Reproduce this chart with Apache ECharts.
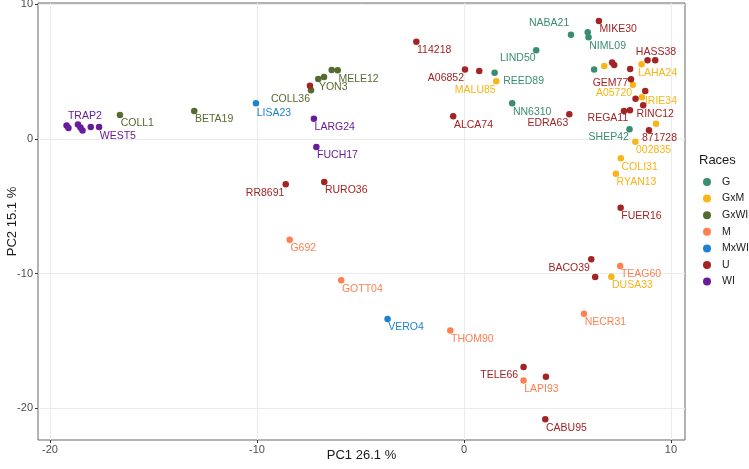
<!DOCTYPE html>
<html><head><meta charset="utf-8">
<script src="https://cdn.jsdelivr.net/npm/echarts@6/dist/echarts.min.js"></script>
<style>html,body{margin:0;padding:0;background:#fff}#c{width:749px;height:469px}</style>
</head><body><div id="c"></div>
<script>
// ---- data: [label, PC1, PC2] per race ----
const races = ['G', 'GxM', 'GxWI', 'M', 'MxWI', 'U', 'WI'];
const G = [
  ['NABA21', 5.17, 7.72], ['NIML09', 6.02, 7.53], ['', 5.98, 7.90], ['LIND50', 3.49, 6.57],
  ['REED89', 1.48, 4.90], ['NN6310', 2.33, 2.63], ['', 6.29, 5.13], ['SHEP42', 8.00, 0.70]
];
const GxM = [
  ['MALU85', 1.56, 4.27], ['', 6.78, 5.40], ['LAHA24', 8.58, 5.53], ['A05720', 8.16, 4.01],
  ['IRIE34', 8.60, 3.08], ['', 9.28, 1.12], ['002835', 8.28, -0.22], ['COLI31', 7.58, -1.45],
  ['RYAN13', 7.34, -2.59], ['DUSA33', 7.12, -10.23]
];
const GxWI = [
  ['COLL1', -16.62, 1.77], ['BETA19', -13.03, 2.06], ['MELE12', -6.10, 5.08], ['', -6.39, 5.10],
  ['', -6.76, 4.58], ['YON3', -7.04, 4.44], ['COLL36', -7.39, 3.60]
];
const M = [
  ['G692', -8.42, -7.48], ['GOTT04', -5.93, -10.50], ['THOM90', -0.66, -14.21],
  ['TEAG60', 7.55, -9.44], ['NECR31', 5.80, -12.97], ['LAPI93', 2.88, -17.92]
];
const MxWI = [
  ['LISA23', -10.05, 2.63], ['VERO4', -3.69, -13.37]
];
const U = [
  ['RR8691', -8.61, -3.38], ['RURO36', -6.75, -3.20], ['', -7.44, 3.94], ['114218', -2.30, 7.20],
  ['A06852', 0.05, 5.13], ['', 0.74, 5.03], ['ALCA74', -0.52, 1.67], ['EDRA63', 5.09, 1.82],
  ['MIKE30', 6.52, 8.74], ['', 7.16, 5.65], ['', 7.26, 5.47], ['', 8.03, 5.18],
  ['HASS38', 8.87, 5.82], ['', 9.24, 5.82], ['GEM77', 8.07, 4.41], ['', 8.76, 3.55],
  ['', 8.29, 2.97], ['RINC12', 8.66, 2.49], ['REGA11', 8.02, 2.11], ['', 7.73, 2.06],
  ['871728', 8.94, 0.63], ['FUER16', 7.57, -5.11], ['BACO39', 6.15, -8.94], ['', 6.34, -10.25],
  ['TELE66', 2.88, -16.93], ['', 3.96, -17.65], ['CABU95', 3.93, -20.81]
];
const WI = [
  ['', -19.20, 0.99], ['', -19.11, 0.80], ['TRAP2', -18.65, 1.06], ['', -18.53, 0.84],
  ['', -18.43, 0.62], ['', -18.03, 0.88], ['WEST5', -17.63, 0.88],
  ['LARG24', -7.25, 1.49], ['FUCH17', -7.13, -0.61]
];
const raceData = { G, GxM, GxWI, M, MxWI, U, WI };
const xTickLabels = [-20, -10, 0, 10];
const yTickLabels = [-20, -10, 0, 10];
const xTitle = 'PC1 26.1 %';
const yTitle = 'PC2 15.1 %';
const legendTitle = 'Races';

// ---- styles ----
const raceColors = {
  G: '#3a8c72', GxM: '#f7b516', GxWI: '#556b2f', M: '#ff7f50',
  MxWI: '#1f82d1', U: '#a32424', WI: '#6a1b9a'
};
// label placement (pixel offsets from point, alignment)
const defaultPlace = [0.7, 8.4, 'left'];
const labelPlace = {
  RR8691: [-1.4, 9, 'right'], A06852: [-1, 8.6, 'right'], COLL36: [-1, 8.4, 'right'],
  MALU85: [-0.6, 8.7, 'right'], LIND50: [-0.6, 8.4, 'right'], EDRA63: [-1, 8.7, 'right'],
  NABA21: [-1.7, -12, 'right'], GEM77: [-2.7, 3.4, 'right'], A05720: [-0.7, 8.6, 'right'],
  REGA11: [-1.7, 8, 'right'], SHEP42: [-0.7, 8, 'right'], BACO39: [-1.3, 8.4, 'right'],
  TELE66: [-5.4, 8.3, 'right'],
  TRAP2: [-10, -8.5, 'left'], WEST5: [0.7, 9, 'left'], LISA23: [0.7, 10, 'left'],
  REED89: [8.6, 8.3, 'left'], LAHA24: [-3.4, 8.4, 'left'], HASS38: [-11.7, -8.3, 'left'],
  IRIE34: [3, 3.7, 'left'], RINC12: [-6.6, 8.7, 'left'], '871728': [-7, 7.7, 'left']
};
const FONT = '"Liberation Sans", Arial, Helvetica, sans-serif';

const series = races.map(r => ({
  name: r,
  type: 'scatter',
  symbol: 'circle',
  symbolSize: 6.5,
  itemStyle: { color: raceColors[r], opacity: 1 },
  emphasis: { disabled: true },
  data: raceData[r].map(p => {
    const pl = labelPlace[p[0]] || defaultPlace;
    return {
      name: p[0],
      value: [p[1], p[2]],
      label: {
        show: p[0] !== '',
        formatter: '{b}',
        position: 'inside',
        offset: [pl[0], pl[1]],
        align: pl[2],
        verticalAlign: 'middle',
        color: raceColors[r],
        fontSize: 10.5,
        fontFamily: FONT
      }
    };
  })
}));

const chart = echarts.init(document.getElementById('c'), null, { renderer: 'canvas' });
chart.setOption({
  animation: false,
  backgroundColor: '#fff',
  title: {
    text: legendTitle, left: 699, top: 154, padding: 0,
    textStyle: { fontSize: 13, fontWeight: 'normal', color: '#1a1a1a', fontFamily: FONT }
  },
  legend: {
    data: races, orient: 'vertical', left: 703, top: 176, padding: 0,
    icon: 'circle', itemWidth: 8, itemHeight: 8, itemGap: 4.6,
    textStyle: { fontSize: 10.5, color: '#1a1a1a', fontFamily: FONT, padding: [0, 0, 0, 6], lineHeight: 12 }
  },
  grid: {
    left: 38, top: 3, width: 647, height: 437, show: true,
    outerBoundsMode: 'none', containLabel: false,
    borderColor: '#666', borderWidth: 1, backgroundColor: 'transparent'
  },
  xAxis: {
    type: 'value', min: -20.58, max: 10.68,
    name: xTitle, nameLocation: 'middle', nameGap: 9, nameMoveOverlap: false,
    nameTextStyle: { fontSize: 13, color: '#1a1a1a', fontFamily: FONT },
    axisLine: { show: false, onZero: false },
    axisTick: { show: true, length: 3, lineStyle: { color: '#333' }, customValues: xTickLabels },
    axisLabel: { customValues: xTickLabels, fontSize: 11, color: '#4d4d4d', margin: 4, fontFamily: FONT },
    splitLine: { show: true, lineStyle: { color: '#ebebeb', width: 1 } }
  },
  yAxis: {
    type: 'value', min: -22.34, max: 10.07,
    name: yTitle, nameLocation: 'middle', nameGap: 19, nameRotate: 90, nameMoveOverlap: false,
    nameTextStyle: { fontSize: 13, color: '#1a1a1a', fontFamily: FONT },
    axisLine: { show: false, onZero: false },
    axisTick: { show: true, length: 3, lineStyle: { color: '#333' }, customValues: yTickLabels },
    axisLabel: { customValues: yTickLabels, fontSize: 11, color: '#4d4d4d', margin: 5, fontFamily: FONT },
    splitLine: { show: true, lineStyle: { color: '#ebebeb', width: 1 } }
  },
  series
});
</script>
</body></html>
